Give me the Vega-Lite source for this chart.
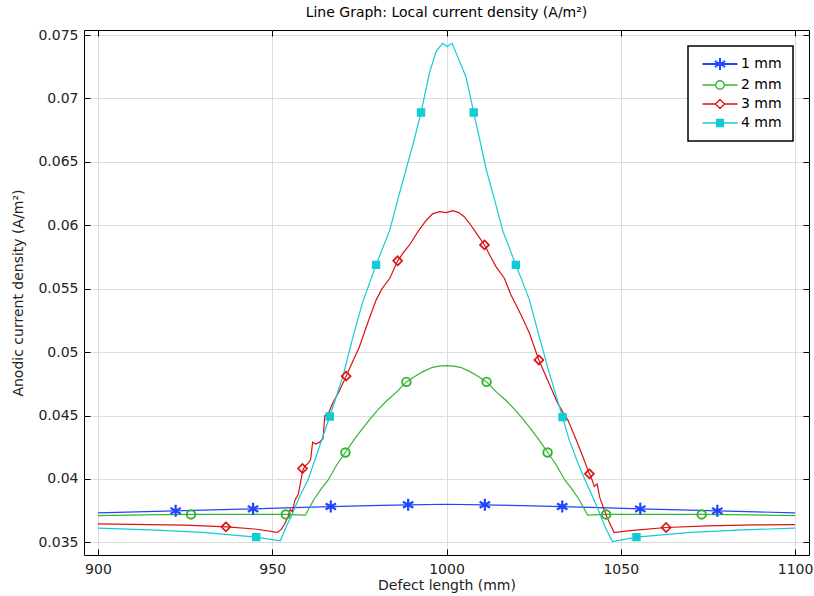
{
  "$schema": "https://vega.github.io/schema/vega-lite/v6.json",
  "width": 725,
  "height": 525,
  "autosize": {"type": "none"},
  "padding": {"left": 84, "top": 30, "right": 5, "bottom": 41},
  "title": {"text": "Line Graph: Local current density (A/m²)", "fontSize": 14, "font": "DejaVu Sans", "fontWeight": "normal", "anchor": "middle", "offset": 8, "color": "#000"},
  "config": {
    "font": "DejaVu Sans",
    "view": {"stroke": "#000", "strokeWidth": 1},
    "axis": {"labelFont": "DejaVu Sans", "titleFont": "DejaVu Sans", "labelFontSize": 14, "titleFontSize": 14, "titleFontWeight": "normal", "labelColor": "#222", "titleColor": "#222", "domain": false, "tickColor": "#000", "gridColor": "#dddddd", "gridWidth": 1, "labelOverlap": false, "labelFlush": false}
  },
  "datasets": {
    "lines": [
      {"series": "1 mm", "x": 900, "y": 0.03732}, {"series": "1 mm", "x": 911, "y": 0.0374}, {"series": "1 mm", "x": 922, "y": 0.03748}, {"series": "1 mm", "x": 933, "y": 0.03756}, {"series": "1 mm", "x": 944.5, "y": 0.03764}, {"series": "1 mm", "x": 956, "y": 0.03773}, {"series": "1 mm", "x": 967, "y": 0.03782}, {"series": "1 mm", "x": 978, "y": 0.03789}, {"series": "1 mm", "x": 989, "y": 0.03796}, {"series": "1 mm", "x": 1000, "y": 0.038}, {"series": "1 mm", "x": 1011, "y": 0.03796}, {"series": "1 mm", "x": 1022, "y": 0.03789}, {"series": "1 mm", "x": 1033, "y": 0.03782}, {"series": "1 mm", "x": 1044, "y": 0.03773}, {"series": "1 mm", "x": 1055.5, "y": 0.03764}, {"series": "1 mm", "x": 1067, "y": 0.03756}, {"series": "1 mm", "x": 1078, "y": 0.03748}, {"series": "1 mm", "x": 1089, "y": 0.0374}, {"series": "1 mm", "x": 1100, "y": 0.03732},

      {"series": "2 mm", "x": 900, "y": 0.0371}, {"series": "2 mm", "x": 913, "y": 0.03716}, {"series": "2 mm", "x": 927, "y": 0.0372}, {"series": "2 mm", "x": 940, "y": 0.03721}, {"series": "2 mm", "x": 954, "y": 0.0372}, {"series": "2 mm", "x": 959.5, "y": 0.03714}, {"series": "2 mm", "x": 962, "y": 0.0384}, {"series": "2 mm", "x": 964, "y": 0.0392}, {"series": "2 mm", "x": 966, "y": 0.0399}, {"series": "2 mm", "x": 968.5, "y": 0.0411}, {"series": "2 mm", "x": 971, "y": 0.0421}, {"series": "2 mm", "x": 973.5, "y": 0.0431}, {"series": "2 mm", "x": 976, "y": 0.044}, {"series": "2 mm", "x": 978, "y": 0.0447}, {"series": "2 mm", "x": 980.5, "y": 0.0455}, {"series": "2 mm", "x": 983, "y": 0.0462}, {"series": "2 mm", "x": 985.5, "y": 0.0468}, {"series": "2 mm", "x": 988.5, "y": 0.04765}, {"series": "2 mm", "x": 991, "y": 0.0481}, {"series": "2 mm", "x": 993.5, "y": 0.0485}, {"series": "2 mm", "x": 996, "y": 0.0488}, {"series": "2 mm", "x": 998, "y": 0.0489}, {"series": "2 mm", "x": 1000, "y": 0.04893}, {"series": "2 mm", "x": 1002, "y": 0.0489}, {"series": "2 mm", "x": 1004, "y": 0.0488}, {"series": "2 mm", "x": 1006.5, "y": 0.0485}, {"series": "2 mm", "x": 1009, "y": 0.0481}, {"series": "2 mm", "x": 1011.5, "y": 0.04765}, {"series": "2 mm", "x": 1014.5, "y": 0.0468}, {"series": "2 mm", "x": 1017, "y": 0.0462}, {"series": "2 mm", "x": 1019.5, "y": 0.0455}, {"series": "2 mm", "x": 1022, "y": 0.0447}, {"series": "2 mm", "x": 1024, "y": 0.044}, {"series": "2 mm", "x": 1026.5, "y": 0.0431}, {"series": "2 mm", "x": 1029, "y": 0.0421}, {"series": "2 mm", "x": 1031.5, "y": 0.0411}, {"series": "2 mm", "x": 1034, "y": 0.0399}, {"series": "2 mm", "x": 1036, "y": 0.0392}, {"series": "2 mm", "x": 1038, "y": 0.0384}, {"series": "2 mm", "x": 1040.5, "y": 0.03714}, {"series": "2 mm", "x": 1046, "y": 0.0372}, {"series": "2 mm", "x": 1060, "y": 0.03721}, {"series": "2 mm", "x": 1073, "y": 0.0372}, {"series": "2 mm", "x": 1087, "y": 0.03716}, {"series": "2 mm", "x": 1100, "y": 0.0371},

      {"series": "3 mm", "x": 900, "y": 0.03645}, {"series": "3 mm", "x": 915, "y": 0.0364}, {"series": "3 mm", "x": 925, "y": 0.03635}, {"series": "3 mm", "x": 937, "y": 0.03622}, {"series": "3 mm", "x": 945, "y": 0.03605}, {"series": "3 mm", "x": 951.5, "y": 0.03578}, {"series": "3 mm", "x": 952.5, "y": 0.036}, {"series": "3 mm", "x": 953.5, "y": 0.0364}, {"series": "3 mm", "x": 954.5, "y": 0.037}, {"series": "3 mm", "x": 955.2, "y": 0.0376}, {"series": "3 mm", "x": 955.8, "y": 0.0374}, {"series": "3 mm", "x": 956.5, "y": 0.0383}, {"series": "3 mm", "x": 957.5, "y": 0.0388}, {"series": "3 mm", "x": 958.7, "y": 0.0406}, {"series": "3 mm", "x": 959.3, "y": 0.041}, {"series": "3 mm", "x": 960.2, "y": 0.0412}, {"series": "3 mm", "x": 961, "y": 0.0415}, {"series": "3 mm", "x": 961.6, "y": 0.0429}, {"series": "3 mm", "x": 962.5, "y": 0.04275}, {"series": "3 mm", "x": 963.6, "y": 0.0429}, {"series": "3 mm", "x": 964.6, "y": 0.0432}, {"series": "3 mm", "x": 965.1, "y": 0.045}, {"series": "3 mm", "x": 966, "y": 0.0451}, {"series": "3 mm", "x": 967.4, "y": 0.046}, {"series": "3 mm", "x": 969, "y": 0.0468}, {"series": "3 mm", "x": 971.2, "y": 0.0481}, {"series": "3 mm", "x": 973, "y": 0.0492}, {"series": "3 mm", "x": 975, "y": 0.0504}, {"series": "3 mm", "x": 977, "y": 0.052}, {"series": "3 mm", "x": 979.8, "y": 0.0541}, {"series": "3 mm", "x": 981.5, "y": 0.055}, {"series": "3 mm", "x": 983.7, "y": 0.0558}, {"series": "3 mm", "x": 986, "y": 0.0572}, {"series": "3 mm", "x": 987.5, "y": 0.0578}, {"series": "3 mm", "x": 989.4, "y": 0.05845}, {"series": "3 mm", "x": 991.8, "y": 0.0595}, {"series": "3 mm", "x": 994.2, "y": 0.0604}, {"series": "3 mm", "x": 996, "y": 0.0609}, {"series": "3 mm", "x": 998, "y": 0.06107}, {"series": "3 mm", "x": 999.9, "y": 0.061}, {"series": "3 mm", "x": 1001.8, "y": 0.06115}, {"series": "3 mm", "x": 1003.5, "y": 0.061}, {"series": "3 mm", "x": 1005, "y": 0.0607}, {"series": "3 mm", "x": 1006.6, "y": 0.06016}, {"series": "3 mm", "x": 1008.5, "y": 0.0594}, {"series": "3 mm", "x": 1010.9, "y": 0.05845}, {"series": "3 mm", "x": 1012.5, "y": 0.0576}, {"series": "3 mm", "x": 1014.2, "y": 0.05674}, {"series": "3 mm", "x": 1016.6, "y": 0.05583}, {"series": "3 mm", "x": 1018.5, "y": 0.0545}, {"series": "3 mm", "x": 1021.4, "y": 0.05293}, {"series": "3 mm", "x": 1023.8, "y": 0.05149}, {"series": "3 mm", "x": 1026.5, "y": 0.04938}, {"series": "3 mm", "x": 1029, "y": 0.0478}, {"series": "3 mm", "x": 1031.9, "y": 0.04597}, {"series": "3 mm", "x": 1033.3, "y": 0.04531}, {"series": "3 mm", "x": 1034.8, "y": 0.04466}, {"series": "3 mm", "x": 1037.2, "y": 0.04308}, {"series": "3 mm", "x": 1039.1, "y": 0.04176}, {"series": "3 mm", "x": 1041, "y": 0.0404}, {"series": "3 mm", "x": 1041.8, "y": 0.0399}, {"series": "3 mm", "x": 1042.4, "y": 0.0394}, {"series": "3 mm", "x": 1043.2, "y": 0.0396}, {"series": "3 mm", "x": 1044, "y": 0.0385}, {"series": "3 mm", "x": 1046, "y": 0.037}, {"series": "3 mm", "x": 1048.1, "y": 0.03577}, {"series": "3 mm", "x": 1052, "y": 0.0359}, {"series": "3 mm", "x": 1056, "y": 0.036}, {"series": "3 mm", "x": 1063, "y": 0.03617}, {"series": "3 mm", "x": 1075, "y": 0.0363}, {"series": "3 mm", "x": 1088, "y": 0.03637}, {"series": "3 mm", "x": 1100, "y": 0.0364},

      {"series": "4 mm", "x": 900, "y": 0.03612}, {"series": "4 mm", "x": 915, "y": 0.03598}, {"series": "4 mm", "x": 930, "y": 0.03578}, {"series": "4 mm", "x": 945.4, "y": 0.03541}, {"series": "4 mm", "x": 952.3, "y": 0.03512}, {"series": "4 mm", "x": 954, "y": 0.0362}, {"series": "4 mm", "x": 956, "y": 0.0374}, {"series": "4 mm", "x": 958, "y": 0.0387}, {"series": "4 mm", "x": 960.3, "y": 0.03993}, {"series": "4 mm", "x": 963, "y": 0.0421}, {"series": "4 mm", "x": 966.5, "y": 0.04492}, {"series": "4 mm", "x": 970.3, "y": 0.0481}, {"series": "4 mm", "x": 972.7, "y": 0.0507}, {"series": "4 mm", "x": 975.9, "y": 0.0539}, {"series": "4 mm", "x": 979.8, "y": 0.05688}, {"series": "4 mm", "x": 983.7, "y": 0.0596}, {"series": "4 mm", "x": 986, "y": 0.062}, {"series": "4 mm", "x": 988.4, "y": 0.0644}, {"series": "4 mm", "x": 990.5, "y": 0.0665}, {"series": "4 mm", "x": 992.7, "y": 0.0689}, {"series": "4 mm", "x": 995.1, "y": 0.072}, {"series": "4 mm", "x": 997, "y": 0.0737}, {"series": "4 mm", "x": 998.9, "y": 0.07435}, {"series": "4 mm", "x": 1000.2, "y": 0.0741}, {"series": "4 mm", "x": 1001.6, "y": 0.07435}, {"series": "4 mm", "x": 1003.2, "y": 0.0733}, {"series": "4 mm", "x": 1005.6, "y": 0.0717}, {"series": "4 mm", "x": 1007.8, "y": 0.0689}, {"series": "4 mm", "x": 1009.5, "y": 0.0668}, {"series": "4 mm", "x": 1011.4, "y": 0.0644}, {"series": "4 mm", "x": 1013.8, "y": 0.062}, {"series": "4 mm", "x": 1016.1, "y": 0.0596}, {"series": "4 mm", "x": 1019.9, "y": 0.05688}, {"series": "4 mm", "x": 1023.8, "y": 0.05412}, {"series": "4 mm", "x": 1026.6, "y": 0.05122}, {"series": "4 mm", "x": 1029.5, "y": 0.04834}, {"series": "4 mm", "x": 1033.3, "y": 0.04487}, {"series": "4 mm", "x": 1035.2, "y": 0.04308}, {"series": "4 mm", "x": 1038.1, "y": 0.04097}, {"series": "4 mm", "x": 1041, "y": 0.03914}, {"series": "4 mm", "x": 1043.5, "y": 0.0376}, {"series": "4 mm", "x": 1045.5, "y": 0.0362}, {"series": "4 mm", "x": 1047.6, "y": 0.03506}, {"series": "4 mm", "x": 1054.5, "y": 0.03541}, {"series": "4 mm", "x": 1070, "y": 0.03578}, {"series": "4 mm", "x": 1085, "y": 0.03598}, {"series": "4 mm", "x": 1100, "y": 0.03612}
    ],
    "markers": [
      {"series": "1 mm", "x": 922.3, "y": 0.03748}, {"series": "1 mm", "x": 944.5, "y": 0.03764}, {"series": "1 mm", "x": 966.8, "y": 0.03782}, {"series": "1 mm", "x": 989, "y": 0.03796}, {"series": "1 mm", "x": 1011, "y": 0.03796}, {"series": "1 mm", "x": 1033.2, "y": 0.03782}, {"series": "1 mm", "x": 1055.6, "y": 0.03764}, {"series": "1 mm", "x": 1077.7, "y": 0.03748},
      {"series": "2 mm", "x": 926.7, "y": 0.0372}, {"series": "2 mm", "x": 953.9, "y": 0.0372}, {"series": "2 mm", "x": 971, "y": 0.04208}, {"series": "2 mm", "x": 988.5, "y": 0.04765}, {"series": "2 mm", "x": 1011.5, "y": 0.04765}, {"series": "2 mm", "x": 1029, "y": 0.04208}, {"series": "2 mm", "x": 1045.8, "y": 0.0372}, {"series": "2 mm", "x": 1073.2, "y": 0.0372},
      {"series": "3 mm", "x": 936.7, "y": 0.03622}, {"series": "3 mm", "x": 958.7, "y": 0.04082}, {"series": "3 mm", "x": 971.2, "y": 0.0481}, {"series": "3 mm", "x": 986, "y": 0.0572}, {"series": "3 mm", "x": 1010.9, "y": 0.05845}, {"series": "3 mm", "x": 1026.5, "y": 0.04938}, {"series": "3 mm", "x": 1041, "y": 0.0404}, {"series": "3 mm", "x": 1063, "y": 0.03617},
      {"series": "4 mm", "x": 945.4, "y": 0.03541}, {"series": "4 mm", "x": 966.5, "y": 0.04492}, {"series": "4 mm", "x": 979.8, "y": 0.05688}, {"series": "4 mm", "x": 992.7, "y": 0.0689}, {"series": "4 mm", "x": 1007.8, "y": 0.0689}, {"series": "4 mm", "x": 1019.9, "y": 0.05688}, {"series": "4 mm", "x": 1033.3, "y": 0.04487}, {"series": "4 mm", "x": 1054.5, "y": 0.03541}
    ]
  },
  "layer": [
    {
      "data": {"name": "lines"},
      "mark": {"type": "line", "strokeWidth": 1.2},
      "encoding": {
        "x": {"field": "x", "type": "quantitative", "scale": {"domain": [896, 1104], "nice": false, "zero": false},
              "axis": {"orient": "bottom", "values": [900, 950, 1000, 1050, 1100], "format": "d", "title": "Defect length (mm)", "tickSize": -6, "labelPadding": 13, "titlePadding": 2, "grid": true}},
        "y": {"field": "y", "type": "quantitative", "scale": {"domain": [0.034, 0.0754], "nice": false, "zero": false},
              "axis": {"orient": "left", "values": [0.035, 0.04, 0.045, 0.05, 0.055, 0.06, 0.065, 0.07, 0.075], "format": "~g", "title": "Anodic current density (A/m²)", "tickSize": -6, "labelPadding": 12, "titlePadding": 12, "grid": true}},
        "stroke": {"field": "series", "type": "nominal",
                   "scale": {"domain": ["1 mm", "2 mm", "3 mm", "4 mm"], "range": ["#1f45ff", "#33b533", "#dd1111", "#11ccd6"]},
                   "legend": {"title": null, "orient": "top-right", "offset": 16, "symbolSize": 100, "symbolOffset": 14, "labelOffset": 14, "padding": 11, "rowPadding": 4, "labelFontSize": 14, "labelFont": "DejaVu Sans", "labelColor": "#000", "strokeColor": "#000", "fillColor": "#ffffff", "cornerRadius": 0,
                     "encode": {
                       "legend": {"update": {"strokeWidth": {"value": 1.5}}},
                       "symbols": {"update": {
                         "shape": {"signal": "datum.value === '1 mm' ? 'M-3.5,0H3.5M0,-1.2V1.2M-1.04,-0.6L1.04,0.6M-1.04,0.6L1.04,-0.6' : datum.value === '2 mm' ? 'M-3.5,0H-0.85M0.85,0H3.5M0.85,0A0.85,0.85 0 1,1 -0.85,0A0.85,0.85 0 1,1 0.85,0Z' : datum.value === '3 mm' ? 'M-3.5,0H-0.9M0.9,0H3.5M0,-0.9L0.9,0L0,0.9L-0.9,0Z' : 'M-3.5,0H3.5M-0.7,-0.7H0.7V0.7H-0.7Z'"},
                         "fill": {"signal": "datum.value === '4 mm' ? '#11ccd6' : 'transparent'"},
                         "strokeWidth": {"signal": "datum.value === '1 mm' ? 2 : 1.3"},
                         "size": {"value": 100},
                         "opacity": {"value": 1}
                       }}
                     }}}
      }
    },
    {
      "data": {"name": "markers"},
      "mark": {"type": "point", "size": 100, "opacity": 1},
      "encoding": {
        "x": {"field": "x", "type": "quantitative", "axis": {"orient": "top", "values": [900, 950, 1000, 1050, 1100], "labels": false, "title": null, "tickSize": -6, "grid": false}},
        "y": {"field": "y", "type": "quantitative", "axis": {"orient": "right", "values": [0.035, 0.04, 0.045, 0.05, 0.055, 0.06, 0.065, 0.07, 0.075], "labels": false, "title": null, "tickSize": -6, "grid": false}},
        "stroke": {"field": "series", "type": "nominal", "legend": null},
        "fill": {"field": "series", "type": "nominal", "scale": {"range": ["transparent", "transparent", "transparent", "#11ccd6"]}, "legend": null},
        "shape": {"field": "series", "type": "nominal", "scale": {"range": ["M0,-1.2V1.2M-1.04,-0.6L1.04,0.6M-1.04,0.6L1.04,-0.6", "M0.85,0A0.85,0.85 0 1,1 -0.85,0A0.85,0.85 0 1,1 0.85,0Z", "M0,-0.9L0.9,0L0,0.9L-0.9,0Z", "M-0.7,-0.7H0.7V0.7H-0.7Z"]}, "legend": null},
        "strokeWidth": {"field": "series", "type": "nominal", "scale": {"range": [2.2, 1.4, 1.2, 1]}, "legend": null}
      }
    }
  ],
  "resolve": {"axis": {"x": "independent", "y": "independent"}}
}
